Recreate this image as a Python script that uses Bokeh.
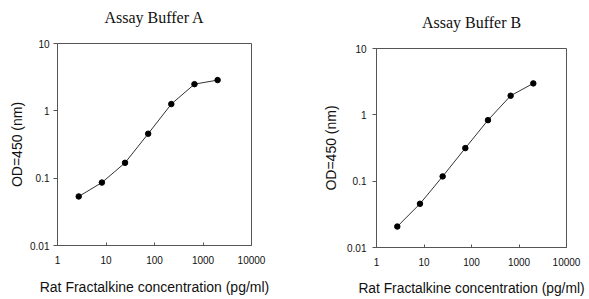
from bokeh.plotting import figure
from bokeh.layouts import row, column
from bokeh.models import FixedTicker, LogAxis
from bokeh.embed import file_html
from bokeh.resources import INLINE

# ---- data ----
conc = [2.74, 8.23, 24.7, 74.1, 222.2, 666.7, 2000.0]
od_a = [0.0535, 0.086, 0.169, 0.457, 1.26, 2.49, 2.86]
od_b = [0.0207, 0.0456, 0.118, 0.315, 0.832, 1.94, 2.98]
x_ticks = [1, 10, 100, 1000, 10000]
x_tick_labels = ["1", "10", "100", "1000", "10000"]
y_ticks = [0.01, 0.1, 1, 10]
y_tick_labels = ["0.01", "0.1", "1", "10"]
titles = ["Assay Buffer A", "Assay Buffer B"]
x_label = "Rat Fractalkine concentration (pg/ml)"
y_label = "OD=450 (nm)"

AX = "#555555"


def make_fig(title, od, fw, fh, bl, br, bt, bb, ystand, yl_stand, xstand, xl_stand,
             xl_size, t_gap):
    p = figure(x_axis_type="log", y_axis_type="log",
               x_range=(1, 10000), y_range=(0.01, 10),
               frame_width=fw, frame_height=fh,
               min_border_left=bl, min_border_right=br,
               min_border_top=bt, min_border_bottom=bb,
               output_backend="svg", toolbar_location=None)
    # title drawn as the label of a tick-less axis above the frame
    top = LogAxis(ticker=FixedTicker(ticks=[], minor_ticks=[]),
                  major_tick_out=0, major_tick_in=0,
                  minor_tick_out=0, minor_tick_in=0,
                  major_label_standoff=0,
                  axis_line_color=None, major_tick_line_color=None,
                  minor_tick_line_color=None,
                  major_label_text_font_size="0px",
                  axis_label=title, axis_label_standoff=t_gap,
                  axis_label_text_font="Liberation Serif",
                  axis_label_text_font_size="16px",
                  axis_label_text_font_style="normal",
                  axis_label_text_color="#111111")
    p.add_layout(top, "above")
    p.grid.visible = False
    p.outline_line_color = AX
    p.outline_line_width = 1
    p.outline_line_alpha = 1
    p.background_fill_color = "white"
    p.border_fill_color = "white"

    xa = p.below[0]
    xa.ticker = FixedTicker(ticks=x_ticks, minor_ticks=[])
    xa.major_label_overrides = {float(t): l for t, l in zip(x_ticks, x_tick_labels)}
    xa.major_tick_in = 3
    xa.major_tick_out = 0
    xa.major_label_standoff = xstand
    xa.axis_label = x_label
    xa.axis_label_standoff = xl_stand
    xa.axis_label_text_font_size = xl_size

    ya = p.left[0]
    ya.ticker = FixedTicker(ticks=y_ticks, minor_ticks=[])
    ya.major_label_overrides = {float(t): l for t, l in zip(y_ticks, y_tick_labels)}
    ya.major_tick_in = 0
    ya.major_tick_out = 4
    ya.major_label_standoff = ystand
    ya.axis_label = y_label
    ya.axis_label_standoff = yl_stand
    ya.axis_label_text_font_size = "14px"

    for ax in (xa, ya):
        ax.axis_line_color = AX
        ax.major_tick_line_color = AX
        ax.minor_tick_line_color = None
        ax.major_label_text_font = "Liberation Sans"
        ax.major_label_text_font_size = "10px"
        ax.major_label_text_color = "#111111"
        ax.axis_label_text_font = "Liberation Sans"
        ax.axis_label_text_font_style = "normal"
        ax.axis_label_text_color = "#111111"

    p.line(conc, od, line_color="#333333", line_width=1)
    p.scatter(conc, od, size=5.5, fill_color="black", line_color="black")
    return p


p1 = make_fig(titles[0], od_a, 194, 202, 57, 49, 43, 50, 4, 2, 10, 12, "14px", 18)
p2 = make_fig(titles[1], od_b, 190, 199, 76, 23, 48, 48, 6, 5, 10, 12, "13.8px", 18)

layout = row(column(p1), column(p2))
open("out.html", "w").write(file_html(layout, INLINE))
